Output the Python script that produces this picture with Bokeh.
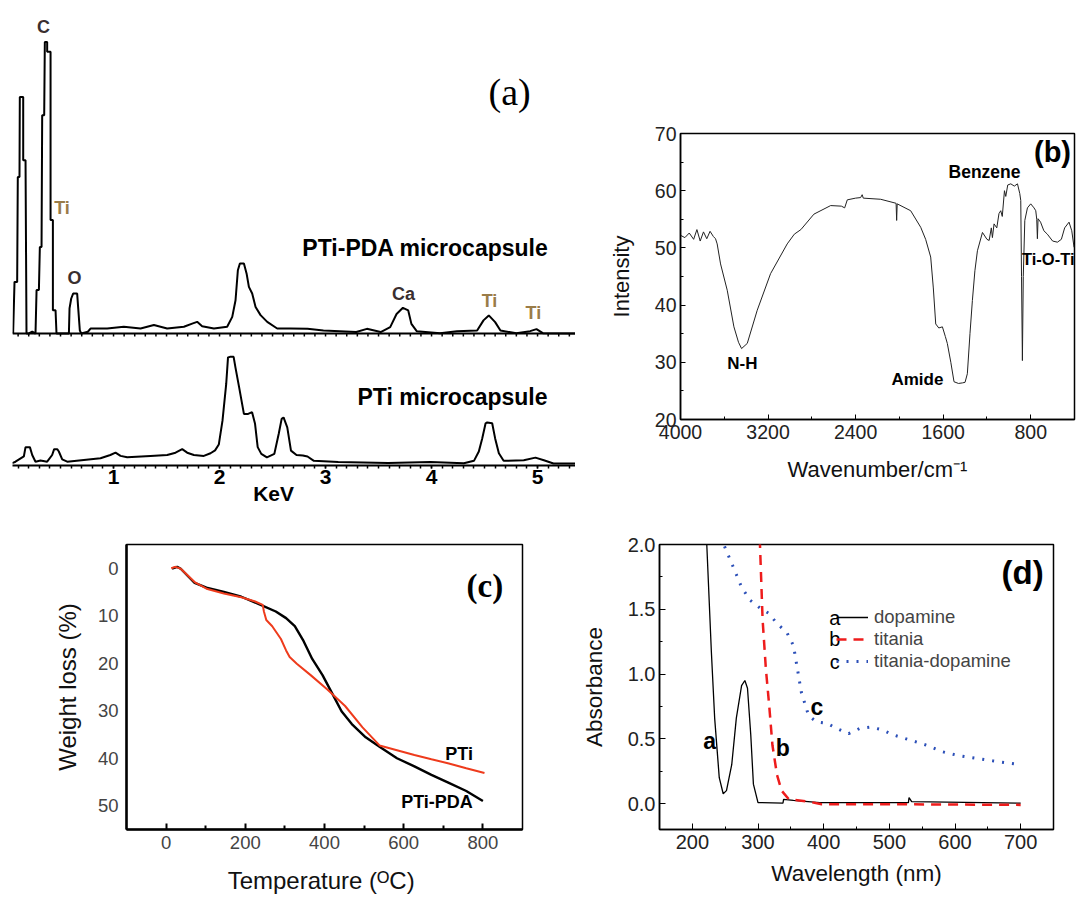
import numpy as np
from bokeh.plotting import figure
from bokeh.models import Range1d, Label, FixedTicker, Legend, LegendItem, PrintfTickFormatter, Span
from bokeh.layouts import row, column
from bokeh.embed import file_html
from bokeh.resources import INLINE

SANS = "Liberation Sans"
SERIF = "Liberation Serif"

# ---------------- (a) EDS spectra ----------------
eds_top_kev = [0.053, 0.066, 0.091, 0.097, 0.113, 0.116, 0.148, 0.148, 0.170, 0.179, 0.201, 0.233,
               0.264, 0.274, 0.296, 0.305, 0.321, 0.327, 0.346, 0.352, 0.374, 0.374, 0.406, 0.406,
               0.428, 0.428, 0.453, 0.462, 0.563, 0.579, 0.585, 0.601, 0.619, 0.657, 0.667, 0.682,
               0.695, 0.758, 0.783, 0.940, 1.097, 1.255, 1.381, 1.506, 1.664, 1.742, 1.789, 1.836,
               1.947, 2.072, 2.12, 2.151, 2.173, 2.192, 2.23, 2.255, 2.277, 2.308, 2.34, 2.387,
               2.45, 2.544, 2.67, 2.83, 2.98, 3.29, 3.39, 3.52, 3.61, 3.67, 3.73, 3.78, 3.81, 3.86,
               4.08, 4.24, 4.43, 4.49, 4.54, 4.60, 4.65, 4.80, 4.93, 4.99, 5.05, 5.36]
eds_top_int = [0, 17.7, 17.7, 53.7, 53.7, 81.1, 81.1, 59.4, 59.4, 0, 0, 0.6,
               0, 14.9, 14.9, 29.7, 29.7, 74.9, 74.9, 100, 100, 96.6, 96.6, 38.9,
               38.9, 8.0, 8.0, 0, 0, 0, 8.6, 12.0, 13.7, 13.7, 8.6, 1.1,
               0, 0.6, 1.7, 1.7, 2.3, 1.7, 2.9, 1.7, 2.3, 3.4, 4.0, 2.5,
               1.7, 2.3, 5.7, 11.4, 21.7, 24.0, 24.0, 20.6, 16.0, 13.7, 9.1, 6.3,
               4.0, 1.7, 1.7, 1.6, 1.0, 0.5, 1.6, 0.5, 2.2, 6.7, 8.8, 7.9, 3.3, 0.8,
               0.1, 0.8, 1.0, 4.5, 6.2, 3.9, 1.0, 0.1, 0.8, 1.5, 0.1, 0]

eds_bot_kev = [0.044, 0.075, 0.154, 0.17, 0.211, 0.233, 0.264, 0.311, 0.374, 0.421, 0.44, 0.47,
               0.484, 0.516, 0.563, 0.72, 0.877, 0.97, 1.019, 1.066, 1.129, 1.349, 1.506, 1.585,
               1.648, 1.695, 1.758, 1.852, 1.915, 1.958, 1.993, 2.028, 2.063, 2.08, 2.098, 2.133,
               2.15, 2.185, 2.23, 2.27, 2.307, 2.335, 2.36, 2.394, 2.447, 2.517, 2.558, 2.586,
               2.604, 2.639, 2.674, 2.726, 2.786, 2.83, 2.89, 3.12, 3.59, 3.99, 4.305, 4.40,
               4.446, 4.478, 4.51, 4.525, 4.572, 4.60, 4.635, 4.68, 4.87, 4.98, 5.06, 5.15, 5.36]
eds_bot_int = [0.6, 1.1, 2.9, 6.1, 6.1, 3.4, 1.1, 1.5, 1.1, 3.4, 5.4, 5.4,
               4.6, 1.9, 1.1, 1.7, 2.3, 3.4, 4.2, 3.1, 2.6, 3.1, 3.4, 4.2,
               5.4, 4.2, 3.4, 3.1, 4.0, 5.0, 7.0, 15.2, 27.8, 36.9, 37.1, 37.1,
               33.5, 26.6, 17.5, 17.5, 18.1, 14.1, 6.1, 3.8, 2.6, 3.8, 10.6, 15.8,
               16.3, 12.9, 4.9, 3.4, 3.2, 2.9, 1.4, 1.0, 0.7, 1.0, 0.6, 1.4,
               4.6, 9.1, 14.3, 14.6, 14.3, 9.1, 4.0, 1.4, 1.6, 2.5, 1.6, 0.5, 0.5]
kev_ticks = [1, 2, 3, 4, 5]

# ---------------- (b) FTIR ----------------
ir_wn = [4000, 3960, 3920, 3880, 3850, 3820, 3790, 3760, 3730, 3700, 3680, 3665, 3634, 3573, 3512,
         3470, 3442, 3390, 3299, 3177, 3025, 2960, 2900, 2781, 2628, 2530, 2500, 2476, 2400, 2354,
         2340, 2330, 2171, 2030, 2025, 2020, 1897, 1805, 1760, 1714, 1690, 1668, 1640, 1607, 1580,
         1562, 1530, 1501, 1460, 1424, 1400, 1379, 1355, 1333, 1310, 1287, 1241, 1200, 1180, 1160,
         1150, 1135, 1110, 1090, 1074, 1060, 1040, 1028, 1010, 982, 950, 921, 900, 891, 884, 876,
         868, 854, 830, 800, 770, 754, 745, 739, 733, 710, 680, 648, 600, 556, 520, 490, 450, 425, 404]
ir_int = [52.2, 51.8, 52.6, 51.5, 53.2, 51.2, 52.8, 51.6, 52.9, 52.0, 51.6, 50.7, 47.2, 42.6, 36.2,
          33.5, 32.4, 33.3, 39.1, 45.5, 50.7, 52.4, 53.2, 55.9, 57.4, 57.3, 57.0, 58.4, 58.7, 58.8,
          59.3, 58.7, 58.5, 57.8, 54.8, 57.7, 56.5, 53.6, 51.5, 48.4, 43.0, 36.7, 36.0, 36.2, 34.5,
          33.3, 30.0, 26.6, 26.3, 26.4, 26.5, 28.0, 35.0, 40.8, 46.0, 49.5, 52.7, 51.5, 51.3, 53.5,
          51.8, 54.2, 53.5, 56.0, 56.5, 55.5, 60.0, 59.0, 61.0, 61.2, 60.8, 61.2, 59.5, 58.3, 45.0, 30.3,
          45.0, 54.8, 57.0, 57.7, 57.0, 56.5, 55.0, 51.6, 55.1, 54.5, 53.0, 52.4, 51.2, 51.0, 51.5, 53.5, 54.5, 53.0, 50.1]

# ---------------- (c) TGA ----------------
tga_pda_t = [15, 28, 37, 72, 102, 146, 190, 233, 277, 303, 325, 347, 369, 395, 421, 443, 469, 504,
             539, 583, 627, 670, 714, 758, 800]
tga_pda_w = [0.1, -0.3, 0.1, 3.1, 4.1, 5.0, 6.0, 7.5, 9.1, 10.5, 12.2, 15.3, 19.1, 22.5, 26.6, 30.1,
             32.8, 35.6, 37.6, 40.0, 41.7, 43.5, 45.2, 46.9, 49.0]
tga_pti_t = [13, 24, 37, 72, 102, 146, 190, 225, 244, 247, 253, 268, 290, 303, 312, 330, 365, 408,
             452, 496, 539, 583, 627, 670, 714, 758, 804]
tga_pti_w = [0, -0.3, 0.1, 2.9, 4.3, 5.3, 6.1, 7.0, 7.7, 9.1, 10.9, 12.2, 14.9, 17.3, 18.7, 20.1,
             22.5, 25.6, 29.0, 33.5, 37.3, 38.3, 39.3, 40.2, 41.1, 42.1, 43.1]

# ---------------- (d) UV-vis ----------------
uv_a_nm = [220, 222, 229, 234, 241, 247, 252, 260, 267, 275, 280, 284, 289, 293, 300, 338, 339, 354,
           394, 529, 530, 534, 700]
uv_a_abs = [2.1, 2.0, 1.17, 0.66, 0.2, 0.076, 0.10, 0.30, 0.66, 0.91, 0.95, 0.89, 0.53, 0.15, 0.008,
            0.003, 0.033, 0.025, 0.008, 0.008, 0.046, 0.015, 0.003]
uv_b_nm = [302, 303, 307, 312, 317, 322, 329, 336, 347, 377, 397, 504, 700]
uv_b_abs = [2.05, 2.0, 1.42, 1.04, 0.76, 0.45, 0.22, 0.10, 0.033, 0.015, -0.005, -0.005, -0.01]
uv_c_nm = [249, 262, 275, 288, 303, 316, 329, 344, 354, 360, 366, 377, 389, 405, 420, 438, 455, 471,
           489, 506, 532, 557, 581, 606, 631, 657, 700]
uv_c_abs = [1.985, 1.83, 1.67, 1.57, 1.51, 1.47, 1.39, 1.32, 1.22, 1.04, 0.86, 0.68, 0.63, 0.62, 0.58,
            0.54, 0.58, 0.59, 0.57, 0.53, 0.49, 0.45, 0.40, 0.37, 0.35, 0.33, 0.30]
uv_names = ["dopamine", "titania", "titania-dopamine"]


def base(p):
    p.grid.visible = False
    p.background_fill_color = "white"
    p.border_fill_color = "white"
    return p


def label(p, x, y, text, size, bold=True, font=SANS, align="center", color="black"):
    style = "bold" if bold else "normal"
    p.add_layout(Label(x=x, y=y, text=text, text_font=font, text_font_size=size,
                       text_font_style=style, text_align=align, text_baseline="middle",
                       text_color=color))


# ----- panel (a) -----
xr_a = Range1d(0.047, 5.358)
minor_kev = [round(v, 1) for v in np.arange(0.1, 5.4, 0.1)]
PX = 0.343  # intensity units per pixel in panel (a)

fa1 = base(figure(width=575, height=345, x_range=xr_a, y_range=Range1d(-4 * PX, 333 * PX),
                  output_backend="svg", toolbar_location=None, y_axis_location=None,
                  x_axis_location=None,
                  min_border_left=12, min_border_right=0, min_border_top=0, min_border_bottom=8))
fa1.outline_line_color = None
# baseline of the upper spectrum with its small tick marks (same ticker positions as the axis below)
fa1.add_layout(Span(location=0, dimension="width", line_color="black", line_width=2))
fa1.segment(x0=minor_kev, y0=[0] * len(minor_kev), x1=minor_kev, y1=[-3 * PX] * len(minor_kev),
            line_color="black", line_width=1.5)
fa1.line(eds_top_kev, eds_top_int, color="black", line_width=2)

label(fa1, 0.34, 105, "C", "18px", color="#3a2f2f")
label(fa1, 0.44, 42.9, "Ti", "18px", align="left", color="#9a7c48")
label(fa1, 0.632, 18.9, "O", "18px", color="#3a2f2f")
label(fa1, 3.736, 13.7, "Ca", "18px", color="#3a2f2f")
label(fa1, 4.547, 11.3, "Ti", "18px", color="#9a7c48")
label(fa1, 4.96, 6.9, "Ti", "18px", color="#9a7c48")
label(fa1, 3.943, 29.2, "PTi-PDA microcapsule", "23px")
label(fa1, 4.736, 82.7, "(a)", "38px", bold=False, font=SERIF)

fa2 = base(figure(width=575, height=165, x_range=xr_a, y_range=Range1d(-0.2, 41),
                  output_backend="svg", toolbar_location=None, y_axis_location=None,
                  min_border_left=12, min_border_right=0, min_border_top=0, min_border_bottom=45))
fa2.outline_line_color = None
fa2.line(eds_bot_kev, eds_bot_int, color="black", line_width=2)
ax = fa2.xaxis[0]
ax.ticker = FixedTicker(ticks=kev_ticks, minor_ticks=minor_kev)
ax.major_tick_in = 0
ax.major_tick_out = 3
ax.minor_tick_in = 0
ax.minor_tick_out = 3
ax.axis_line_width = 2
ax.major_tick_line_width = 1.5
ax.minor_tick_line_width = 1.5
ax.major_label_text_font = SANS
ax.major_label_text_font_style = "bold"
ax.major_label_text_font_size = "21px"
ax.major_label_text_color = "black"
ax.major_label_standoff = 1
# axis title sits left of centre in the original: pad with non-breaking spaces
ax.axis_label = "KeV" + "\u00a0" * 7
ax.axis_label_text_font = SANS
ax.axis_label_text_font_style = "bold"
ax.axis_label_text_font_size = "21px"
ax.axis_label_text_color = "black"
ax.axis_label_standoff = -5
label(fa2, 4.198, 23.3, "PTi microcapsule", "23px")

# ----- panel (b) -----
fb = base(figure(width=504, height=510, x_range=Range1d(4000, 400), y_range=Range1d(20, 70),
                 output_backend="svg", toolbar_location=None,
                 min_border_left=105, min_border_right=5, min_border_top=133, min_border_bottom=91))
fb.outline_line_color = "black"
fb.outline_line_width = 1.5
fb.line(ir_wn, ir_int, color="#222222", line_width=1)
fb.xaxis.ticker = FixedTicker(ticks=[4000, 3200, 2400, 1600, 800], minor_ticks=[3600, 2800, 2000, 1200])
fb.yaxis.ticker = FixedTicker(ticks=[20, 30, 40, 50, 60, 70], minor_ticks=[25, 35, 45, 55, 65])
for a in (fb.xaxis[0], fb.yaxis[0]):
    a.axis_line_width = 1.5
    a.major_tick_in = 5
    a.major_tick_out = 0
    a.minor_tick_in = 3
    a.minor_tick_out = 0
    a.major_label_text_font = SANS
    a.major_label_text_font_size = "19.5px"
    a.major_label_text_color = "#222222"
    a.axis_label_text_font = SANS
    a.axis_label_text_font_size = "22px"
    a.axis_label_text_font_style = "normal"
    a.axis_label_text_color = "#111111"
fb.xaxis.major_label_standoff = 5
fb.yaxis.major_label_standoff = 4
fb.xaxis.axis_label = "Wavenumber/cm\u207b\u00b9"
fb.xaxis.axis_label_standoff = 15
fb.yaxis.axis_label = "Intensity"
fb.yaxis.axis_label_standoff = 18
label(fb, 601, 66.7, "(b)", "29px")
label(fb, 1222, 63.2, "Benzene", "17.5px")
label(fb, 3434, 29.8, "N-H", "17px")
label(fb, 1835, 27.0, "Amide", "17px")
label(fb, 880, 48.0, "Ti-O-Ti", "16.5px", align="left")

# ----- panel (c) -----
fc = base(figure(width=540, height=386, x_range=Range1d(-100, 900), y_range=Range1d(55, -5),
                 output_backend="svg", toolbar_location=None,
                 min_border_left=126, min_border_right=18, min_border_top=30, min_border_bottom=66))
fc.outline_line_color = "black"
fc.outline_line_width = 1.5
fc.line(tga_pda_t, tga_pda_w, color="black", line_width=2.4)
fc.line(tga_pti_t, tga_pti_w, color="#ee3b1c", line_width=2)
fc.xaxis.ticker = FixedTicker(ticks=[0, 200, 400, 600, 800], minor_ticks=[100, 300, 500, 700])
fc.yaxis.ticker = FixedTicker(ticks=[0, 10, 20, 30, 40, 50], minor_ticks=[])
for a in (fc.xaxis[0], fc.yaxis[0]):
    a.axis_line_width = 2.5
    a.major_label_text_font = SANS
    a.major_label_text_font_size = "18.5px"
    a.major_label_text_color = "#444444"
    a.axis_label_text_font = SANS
    a.axis_label_text_font_size = "24px"
    a.axis_label_text_font_style = "normal"
    a.axis_label_text_color = "#111111"
fc.xaxis.major_tick_in = 6
fc.xaxis.major_tick_out = 0
fc.xaxis.minor_tick_in = 4
fc.xaxis.minor_tick_out = 0
fc.xaxis.major_tick_line_width = 2
fc.xaxis.minor_tick_line_width = 2
fc.yaxis.major_tick_in = 0
fc.yaxis.major_tick_out = 0
fc.yaxis.minor_tick_in = 0
fc.yaxis.minor_tick_out = 0
fc.xaxis.major_label_standoff = 6
fc.yaxis.major_label_standoff = 8
fc.xaxis.axis_label = "Temperature  (\u1d3cC)"
fc.xaxis.axis_label_standoff = 15
fc.yaxis.axis_label = "Weight loss (%)"
fc.yaxis.axis_label_standoff = 14
label(fc, 805, 3.7, "(c)", "33px", font=SERIF)
label(fc, 740, 39.0, "PTi", "18px")
label(fc, 684, 49.3, "PTi-PDA", "18px")

# ----- panel (d) -----
fd = base(figure(width=539, height=386, x_range=Range1d(150, 750), y_range=Range1d(-0.2, 2.0),
                 output_backend="svg", toolbar_location=None,
                 min_border_left=119, min_border_right=26, min_border_top=34, min_border_bottom=63))
fd.outline_line_color = "black"
fd.outline_line_width = 1.5
ra = fd.line(uv_a_nm, uv_a_abs, color="black", line_width=1.3)
rb = fd.line(uv_b_nm, uv_b_abs, color="#ee1c1c", line_width=2.5, line_dash="10 7")
rc = fd.line(uv_c_nm, uv_c_abs, color="#2b4fb8", line_width=3, line_dash="2 8")
fd.xaxis.ticker = FixedTicker(ticks=[200, 300, 400, 500, 600, 700], minor_ticks=[250, 350, 450, 550, 650])
fd.yaxis.ticker = FixedTicker(ticks=[0.0, 0.5, 1.0, 1.5, 2.0], minor_ticks=[-0.25, 0.25, 0.75, 1.25, 1.75])
fd.yaxis.formatter = PrintfTickFormatter(format="%.1f")
for a in (fd.xaxis[0], fd.yaxis[0]):
    a.axis_line_width = 1.5
    a.major_tick_in = 6
    a.major_tick_out = 0
    a.minor_tick_in = 3
    a.minor_tick_out = 0
    a.major_label_text_font = SANS
    a.major_label_text_font_size = "20px"
    a.major_label_text_color = "#222222"
    a.axis_label_text_font = SANS
    a.axis_label_text_font_size = "22.5px"
    a.axis_label_text_font_style = "normal"
    a.axis_label_text_color = "#111111"
fd.xaxis.major_label_standoff = 5
fd.yaxis.major_label_standoff = 4
fd.xaxis.axis_label = "Wavelength (nm)"
fd.xaxis.axis_label_standoff = 9
fd.yaxis.axis_label = "Absorbance"
fd.yaxis.axis_label_standoff = 18

leg = Legend(items=[LegendItem(label=uv_names[0], renderers=[ra]),
                    LegendItem(label=uv_names[1], renderers=[rb]),
                    LegendItem(label=uv_names[2], renderers=[rc])],
             location=(177, 157), background_fill_alpha=0, border_line_alpha=0,
             label_text_font=SANS, label_text_font_size="18.5px", glyph_width=32, glyph_height=18,
             label_height=18, spacing=0, padding=0, margin=0, label_standoff=6)
fd.add_layout(leg)
label(fd, 417, 1.435, "a", "20px", bold=False)
label(fd, 417, 1.267, "b", "20px", bold=False)
label(fd, 417, 1.091, "c", "20px", bold=False)
label(fd, 226.4, 0.48, "a", "23px")
label(fd, 337.9, 0.426, "b", "23px")
label(fd, 389.8, 0.747, "c", "23px")
label(fd, 703, 1.786, "(d)", "33px")

layout = column(row(column(fa1, fa2), fb), row(fc, fd))
open("out.html", "w").write(file_html(layout, INLINE))
